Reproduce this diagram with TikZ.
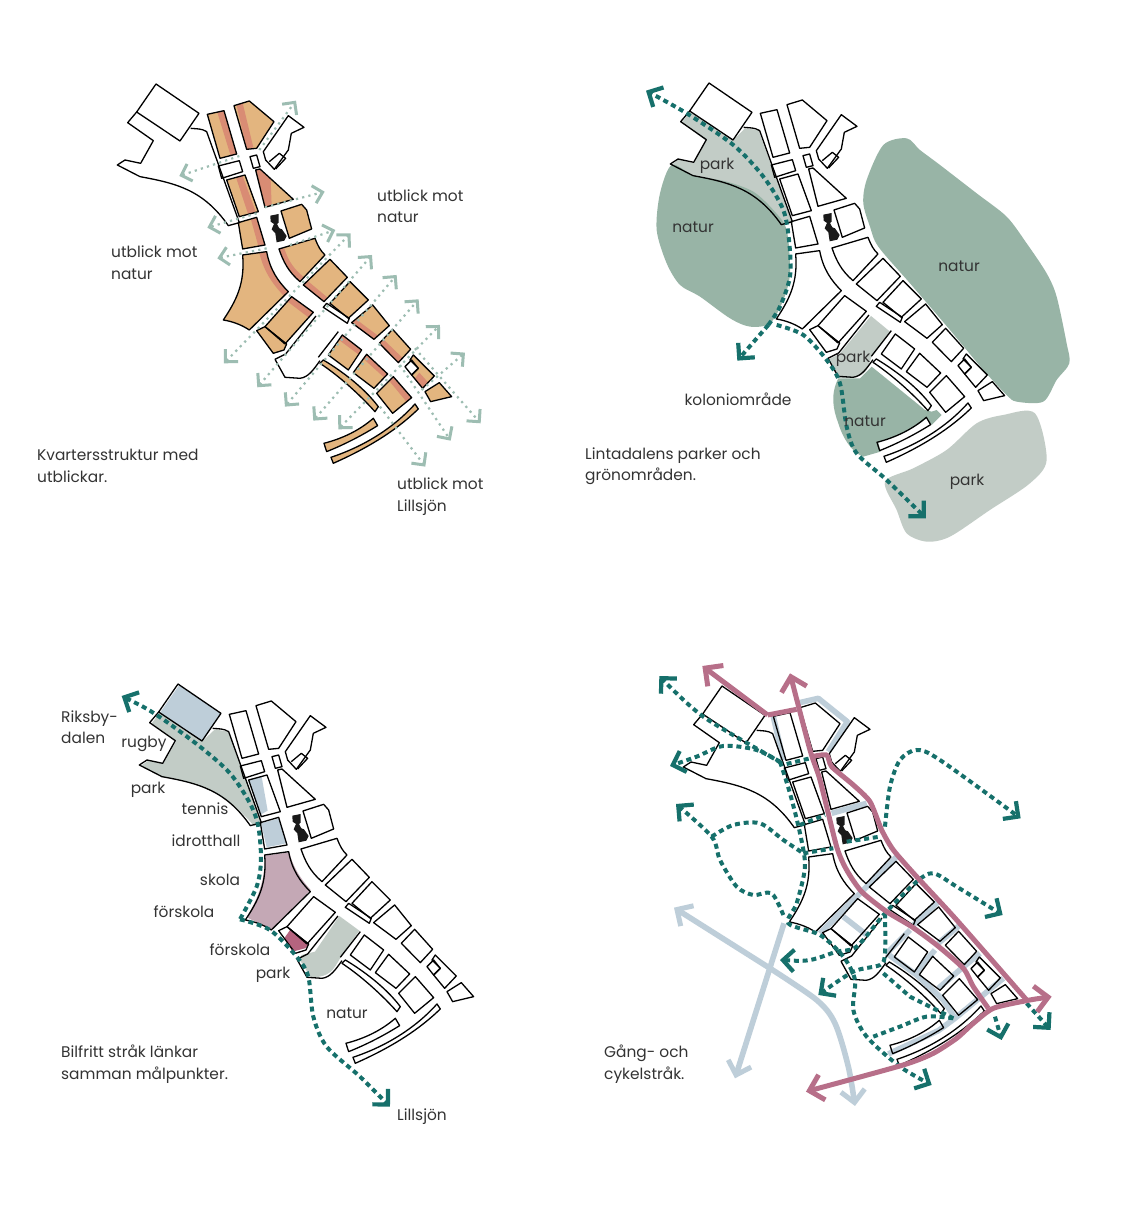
\documentclass[tikz,border=0pt]{standalone}
\usepackage{fontspec}
\setmainfont{Poppins}
\usepackage{xcolor}
\usetikzlibrary{arrows.meta}
\definecolor{blockorange}{HTML}{E3B57F}
\definecolor{roadpink}{HTML}{D98C74}
\definecolor{naturgreen}{HTML}{98B4A6}
\definecolor{parkgray}{HTML}{C2CCC6}
\definecolor{sportblue}{HTML}{BECED9}
\definecolor{schoolrose}{HTML}{C4A8B5}
\definecolor{preschoolrose}{HTML}{B5647F}
\definecolor{walkteal}{HTML}{16706B}
\definecolor{viewgreen}{HTML}{9DBDB2}
\definecolor{routerose}{HTML}{B76F89}
\definecolor{labelgray}{HTML}{333333}
\tikzset{
  zoomed/.style={x=0.3333pt,y=-0.3333pt},
  block/.style={},
  plainblock/.style={draw=black,line width=1.3pt,line join=round},
  label/.style={text=labelgray,font=\fontsize{15.4}{21.5}\selectfont,inner sep=0pt},
  caption/.style={label,align=left,anchor=west},
  viewline/.style={draw=viewgreen,line width=2.2pt,dash pattern=on 2.2pt off 4.2pt,>={Straight Barb[length=9pt,width=18pt,line width=3pt]}},
  walkline/.style={draw=walkteal,line width=4pt,dash pattern=on 5pt off 3.8pt,>={Straight Barb[length=11pt,width=22pt,line width=4.2pt]}},
  routeline/.style={draw=routerose,line width=5pt,line join=round,>={Straight Barb[length=13pt,width=26pt,line width=5pt]}},
  pathline/.style={draw=sportblue,line width=5.6pt,line join=round,>={Straight Barb[length=12pt,width=24pt,line width=5pt]}},
}
\newcommand{\cityplain}{
  \draw[plainblock] (168,42)--(297,130)--(240,213)--(110,126)--cycle;
  \draw[plainblock] (110,126)--(83,158)--(160,212)--(122,280)--(75,270)--(52,285)--(120,320)
    .. controls (230,340) and (310,360) .. (385,467)--(418,458)--(320,185)
    .. controls (305,175) and (290,177) .. (272,175);
  \draw[plainblock] (355,288)--(418,272)--(428,305)--(365,325)--cycle;
  \draw[plainblock] (450,260)--(470,255)--(480,290)--(460,295)--cycle;
  \draw[plainblock] (490,245)--(565,137)--(612,172)--(574,190)--(565,240)--(523,298)--(497,270)--cycle;
  \draw[plainblock] (508,275)--(538,250)--(557,265)--(527,297);
  \draw[plainblock] (525,868)--(557,852)--(648,738);
  \draw[plainblock] (715,785)--(655,862);
  \draw[plainblock] (525,868)--(555,922)--(600,925) .. controls (625,922) and (640,900) .. (660,872);
  \draw[plainblock] (670,712)--(680,700)--(748,745)--(742,760)--cycle;
  \draw[plainblock] (915,890)--(935,870)--(955,895)--(935,915)--cycle;
  \fill[black!90] (511,437)--(536,432)--(536,458)--(531,462)--(538,475)--(546,478)--(560,498)--(553,512)--(530,517)--(526,490)--(515,478)--(522,462)--(512,455)--cycle;
}
\newcommand{\cityblocks}{
  \path[block] (322,133)--(372,122)--(410,252)--(360,265)--cycle;
  \path[block] (402,107)--(448,93)--(522,155)--(470,235)--(440,238)--cycle;
  \path[block] (380,330)--(435,315)--(475,425)--(418,440)--cycle;
  \path[block] (467,300)--(480,297)--(580,388)--(495,412)--cycle;
  \path[block] (415,458)--(470,442)--(495,525)--(428,537)--cycle;
  \path[block] (543,423)--(605,403)--(620,420)--(635,477)--(568,505)--cycle;
  \path[block] (537,537)--(645,505) .. controls (655,530) and (660,540) .. (675,555)--(600,635) .. controls (565,605) and (550,575) .. (537,537)--cycle;
  \path[block] (428,555)--(500,545) .. controls (510,600) and (535,635) .. (565,665)--(448,780) .. controls (425,765) and (400,755) .. (370,750) .. controls (410,690) and (435,640) .. (428,555)--cycle;
  \path[block] (575,680)--(640,727)--(555,822)--(495,770)--cycle;
  \path[block] (470,782)--(495,770)--(560,822)--(552,840)--(520,850)--cycle;
  \path[block] (690,568)--(742,622)--(672,695)--(610,645)--cycle;
  \path[block] (750,635)--(805,690)--(745,745)--(690,700)--cycle;
  \path[block] (818,705)--(868,767)--(822,808)--(755,758)--cycle;
  \path[block] (878,778)--(932,838)--(895,878)--(838,820)--cycle;
  \path[block] (940,855)--(1003,918)--(968,955)--(935,915)--(955,895)--(930,870)--cycle;
  \path[block] (975,965)--(1018,938)--(1055,980)--(992,995)--cycle;
  \path[block] (727,795)--(785,840)--(745,900)--(685,855)--cycle;
  \path[block] (800,853)--(863,912)--(822,955)--(760,908)--cycle;
  \path[block] (880,920)--(935,983)--(878,1030)--(830,970)--cycle;
  \path[block] (660,880)--(670,870) .. controls (720,900) and (790,950) .. (835,1010)--(825,1025) .. controls (780,975) and (720,920) .. (660,880)--cycle;
  \path[block] (945,1002)--(955,1017) .. controls (880,1090) and (790,1140) .. (700,1180)--(693,1162) .. controls (790,1130) and (880,1075) .. (945,1002)--cycle;
  \path[block] (820,1045)--(833,1067) .. controls (780,1100) and (730,1125) .. (680,1145)--(672,1120) .. controls (730,1105) and (780,1080) .. (820,1045)--cycle;
}
\begin{document}
\begin{tikzpicture}[x=1pt,y=-1pt]
  \useasboundingbox[fill=white] (0,0) rectangle (1127,1214);

  % kvarter
  \begin{scope}[shift={(100,70)},zoomed]
    \begin{scope}[block/.style={fill=blockorange}]
      \cityblocks
    \end{scope}
    \fill[roadpink] (352,127)--(372,122)--(410,252)--(392,257)--cycle;
    \fill[roadpink] (410,106)--(428,99)--(460,232)--(440,238)--cycle;
    \fill[roadpink] (408,322)--(428,318)--(468,428)--(445,434)--cycle;
    \fill[roadpink] (467,300)--(480,297)--(512,328)--(515,406)--(497,412)--cycle;
    \fill[roadpink] (453,449)--(470,442)--(495,525)--(475,528)--cycle;
    \fill[roadpink] (537,537)--(553,535) .. controls (565,575) and (585,600) .. (612,622)--(600,635) .. controls (565,605) and (550,575) .. (537,537)--cycle;
    \fill[roadpink] (478,548)--(500,545) .. controls (510,600) and (535,635) .. (565,665)--(552,678) .. controls (515,640) and (490,600) .. (478,548)--cycle;
    \fill[roadpink] (575,680)--(640,727)--(625,742)--(562,694)--cycle;
    \fill[roadpink] (610,645)--(672,695)--(683,683)--(622,632)--cycle;
    \fill[roadpink] (755,758)--(822,808)--(834,797)--(767,747)--cycle;
    \fill[roadpink] (838,820)--(895,878)--(908,864)--(850,808)--cycle;
    \fill[roadpink] (945,925)--(958,908)--(985,938)--(968,955)--cycle;
    \fill[roadpink] (727,795)--(785,840)--(775,853)--(717,810)--cycle;
    \fill[roadpink] (800,853)--(863,912)--(853,923)--(790,866)--cycle;
    \fill[roadpink] (880,920)--(935,983)--(920,996)--(868,933)--cycle;
    \begin{scope}[block/.style={draw=black,line width=1.3pt,line join=round}]
      \cityblocks
    \end{scope}
    \cityplain
    \draw[viewline,->] (478,240)--(588,92);
    \draw[viewline,->] (418,258)--(238,318);
    \draw[viewline,->] (495,412)--(674,365);
    \draw[viewline,->] (470,430)--(322,473);
    \draw[viewline,->] (570,525)--(706,480);
    \draw[viewline,->] (500,535)--(352,565);
    \draw[viewline,<->] (372,880)--(752,490);
    \draw[viewline,<->] (472,952)--(816,555);
    \draw[viewline,<->] (555,1010)--(890,615);
    \draw[viewline,<->] (640,1052)--(956,688);
    \draw[viewline,<->] (715,1078)--(1020,765);
    \draw[viewline,->] (965,960)--(1095,848);
    \draw[viewline,->] (945,835)--(1142,1060);
    \draw[viewline,->] (900,885)--(1052,1112);
    \draw[viewline,->] (840,1010)--(976,1190);
  \end{scope}
  \node[caption] (viewEast) at (377,206) {utblick mot\\natur};
  \node[caption] (viewWest) at (111,262.5) {utblick mot\\natur};
  \node[caption] (blockText) at (37,466) {Kvartersstruktur med\\utblickar.};
  \node[caption] (viewSouth) at (397,496.5) {utblick mot\\Lillsjön};

  % parker och natur
  \begin{scope}[shift={(630,70)},zoomed]
    \fill[parkgray] (180,125)--(155,158)--(228,212)--(190,280)--(145,268)--(125,285)--(190,315)
      .. controls (300,335) and (380,360) .. (462,465)--(487,458)--(385,180)--(345,175)--(310,210)--cycle;
    \fill[naturgreen] plot[smooth cycle] coordinates {(125,285) (190,315) (290,335) (370,365) (430,420) (470,480) (480,610) (460,690) (420,760) (360,770) (300,745) (210,680) (150,645) (110,580) (80,480) (90,370)};
    \fill[naturgreen] plot[smooth cycle] coordinates {(760,225) (830,205) (870,240) (930,285) (1040,370) (1130,440) (1190,520) (1250,610) (1280,680) (1310,820) (1318,880) (1280,930) (1240,995) (1160,995) (1130,975) (1060,900) (960,780) (840,640) (745,530) (720,470) (700,400) (710,330)};
    \fill[naturgreen] (625,925)--(690,925)--(725,890)--(885,1020)--(905,1025)--(920,1020)--(935,1035)--(905,1065)--(890,1045) .. controls (840,1085) and (790,1100) .. (745,1118)--(752,1145)--(700,1160)
      .. controls (670,1150) and (640,1110) .. (625,1060) .. controls (610,1020) and (600,975) .. (625,925)--cycle;
    \fill[parkgray] (723,738)--(780,785)--(725,860)--(710,900) .. controls (695,920) and (680,925) .. (625,925)--(595,868)--(628,853)--cycle;
    \fill[parkgray] plot[smooth cycle,tension=.5] coordinates {(1215,1030) (1250,1170) (1200,1240) (1080,1320) (960,1400) (890,1415) (830,1390) (800,1320) (765,1235) (850,1195) (950,1140) (1040,1060) (1120,1035)};
  \end{scope}
  \begin{scope}[shift={(653,69)},zoomed]
    \begin{scope}[block/.style={draw=black,line width=1.3pt,line join=round}]
      \cityblocks
    \end{scope}
    \cityplain
  \end{scope}
  \begin{scope}[shift={(630,70)},zoomed]
    \draw[walkline,->] plot[smooth] coordinates {(415,765) (450,710) (480,620) (478,520) (460,420) (400,320) (310,225) (170,130) (48,62)};
    \draw[walkline,->] (415,765)--(322,872);
    \draw[walkline,->] plot[smooth] coordinates {(440,765) (520,795) (590,870) (630,940) (650,1070) (680,1150) (770,1230) (888,1345)};
  \end{scope}
  \node[label] (parkNorth) at (717,166) {park};
  \node[label] (naturWest) at (693,227) {natur};
  \node[label] (naturEast) at (959,266) {natur};
  \node[label] (parkMiddle) at (853,359) {park};
  \node[label] (allotment) at (738,399.5) {koloniområde};
  \node[label] (naturSouth) at (865,421) {natur};
  \node[label] (parkSouth) at (967,482) {park};
  \node[caption] (parkText) at (585,466) {Lintadalens parker och\\grönområden.};

  % bilfritt strak
  \begin{scope}[shift={(100,680)},zoomed]
    \fill[sportblue] (238,15)--(363,100)--(308,183)--(180,98)--cycle;
    \fill[parkgray] (180,98)--(155,130)--(228,185)--(190,250)--(148,240)--(122,258)--(185,290)
      .. controls (300,310) and (380,340) .. (462,438)--(485,430)--(385,155)--(345,148)--(308,183)--cycle;
    \fill[sportblue] (447,298)--(485,290)--(503,392)--(480,405)--cycle;
    \fill[sportblue] (483,430)--(537,415)--(558,490)--(500,502)--cycle;
    \fill[schoolrose] (495,527)--(568,517) .. controls (580,565) and (605,600) .. (632,630)--(515,748)--(440,712) .. controls (470,660) and (495,610) .. (495,527)--cycle;
    \fill[preschoolrose] (570,750)--(628,792)--(615,805)--(578,815)--(553,775)--cycle;
    \fill[parkgray] (718,708)--(778,752)--(722,832) .. controls (700,870) and (690,892) .. (633,892)--(598,838)--(605,825)--(645,815)--cycle;
  \end{scope}
  \begin{scope}[shift={(122,670)},zoomed]
    \begin{scope}[block/.style={draw=black,line width=1.3pt,line join=round}]
      \cityblocks
    \end{scope}
    \cityplain
  \end{scope}
  \begin{scope}[shift={(100,680)},zoomed]
    \draw[walkline,<-] plot[smooth] coordinates {(65,48) (170,105) (300,200) (390,280) (450,370) (475,440) (483,540) (470,620) (420,718)};
    \draw[walkline,->] plot[smooth] coordinates {(420,718) (510,750) (590,830) (625,890) (640,1010) (680,1100) (780,1190) (870,1280)};
  \end{scope}
  \node[caption] (riksby) at (61,727) {Riksby-\\dalen};
  \node[label] (rugby) at (144,743.5) {rugby};
  \node[label] (parkLawn) at (148,790) {park};
  \node[label] (tennis) at (205,809) {tennis};
  \node[label] (sportHall) at (206,841) {idrotthall};
  \node[label] (school) at (220,880) {skola};
  \node[label] (preschoolA) at (184,912) {förskola};
  \node[label] (preschoolB) at (240,950) {förskola};
  \node[label] (parkPlay) at (273,975) {park};
  \node[label] (naturLake) at (347,1013) {natur};
  \node[caption] (carFree) at (61,1064) {Bilfritt stråk länkar\\samman målpunkter.};
  \node[label] (lake) at (422,1117) {Lillsjön};

  % gang och cykel
  \begin{scope}[shift={(640,660)},zoomed]
    \draw[pathline] (400,170)--(430,300);
    \draw[pathline] (470,130)--(535,115)--(622,185)--(565,275);
    \draw[pathline] (575,460)--(680,430);
    \draw[pathline] (540,820)--(770,590);
    \draw[pathline] (610,770)--(680,825);
    \draw[pathline] (815,800)--(895,725);
    \draw[pathline] (740,880)--(810,810);
    \draw[pathline] (740,880)--(830,945)--(910,1020)--(945,1075);
    \draw[pathline] (830,935)--(885,870);
    \draw[pathline] (895,985)--(965,925);
    \draw[pathline] (895,850)--(960,795);
    \draw[pathline] (965,925)--(1020,880);
    \draw[pathline] (745,1182)--(895,1112)--(945,1075)--(1090,955);
  \end{scope}
  \begin{scope}[shift={(666,672)},zoomed]
    \begin{scope}[block/.style={draw=black,line width=1.3pt,line join=round}]
      \cityblocks
    \end{scope}
    \cityplain
  \end{scope}
  \begin{scope}[shift={(640,660)},zoomed]
    \draw[pathline,->] plot[smooth,tension=.5] coordinates {(390,925) (530,1020) (585,1090) (625,1220) (645,1338)};
    \draw[pathline,->] (390,925)--(102,743);
    \draw[pathline,->] (432,790)--(285,1255);
    \draw[walkline,->] plot[smooth] coordinates {(420,305) (190,170) (58,48)};
    \draw[walkline,->] plot[smooth] coordinates {(420,305) (450,400) (480,520) (495,620) (470,730) (445,790) (540,825) (610,890) (645,960) (640,1050) (680,1130) (780,1220) (875,1275)};
    \draw[walkline,->] plot[smooth] coordinates {(425,310) (350,270) (250,258) (170,290) (90,318)};
    \draw[walkline] (440,312)--(510,295);
    \draw[walkline] (480,495)--(555,465);
    \draw[walkline] (490,580)--(580,565);
    \draw[walkline] (620,545)--(720,530);
    \draw[walkline,->] plot[smooth] coordinates {(430,765) (395,700) (340,705) (290,680) (240,600) (215,530) (108,432)};
    \draw[walkline] plot[smooth] coordinates {(215,530) (280,495) (360,490) (430,540) (490,580)};
    \draw[walkline,->] plot[smooth] coordinates {(735,500) (750,380) (780,300) (830,270) (900,300) (1142,475)};
    \draw[walkline,<->] plot[smooth] coordinates {(420,900) (510,900) (590,875) (650,860) (735,760) (830,665) (880,640) (950,680) (1088,765)};
    \draw[walkline,->] plot[smooth] coordinates {(735,760) (735,880) (720,915) (640,935) (535,1005)};
    \draw[walkline] (730,940)--(810,1010)--(940,1075);
    \draw[walkline] plot[smooth] coordinates {(940,1075) (860,1070) (780,1100) (700,1130)};
    \draw[walkline,->] (1065,1070)--(1085,1140);
    \draw[walkline,->] (1160,1030)--(1232,1110);
    \draw[routeline,->] (383,165)--(187,18);
    \draw[routeline] (383,165)--(470,148);
    \draw[routeline,->] plot[smooth,tension=.4] coordinates {(1045,1045) (1000,980) (970,925) (890,855) (815,800) (740,755) (665,695) (620,630) (590,560) (540,360) (510,270) (450,40)};
    \draw[routeline] plot[smooth,tension=.4] coordinates {(515,290) (560,285) (575,320) (640,375) (690,425) (725,510) (760,570) (830,650) (950,780) (1160,1020)};
    \draw[routeline,<->] plot[smooth,tension=.4] coordinates {(1235,1010) (1160,1022) (1060,1045) (1000,1090) (950,1135) (880,1180) (790,1215) (498,1295)};
  \end{scope}
  \node[caption] (walkText) at (604,1064) {Gång- och\\cykelstråk.};
\end{tikzpicture}
\end{document}
